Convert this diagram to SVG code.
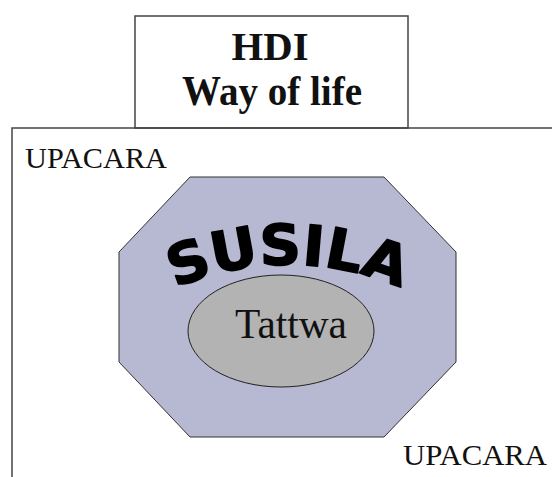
<svg xmlns="http://www.w3.org/2000/svg" width="552" height="477" viewBox="0 0 552 477">
<style>
.frame{fill:#fff;stroke:#444;stroke-width:1.5}
.serif{font-family:"Liberation Serif","Times New Roman",serif;fill:#111}
.bold{font-weight:bold}
.word{font-family:"DejaVu Sans","Liberation Sans",sans-serif;font-weight:bold;fill:#000;stroke:#000;stroke-width:1.6;stroke-linejoin:round}
</style>
<defs>
<path id="arc" d="M 150 301 A 280 280 0 0 1 426 301"/>
</defs>
<rect width="552" height="477" fill="#fff"/>
<g id="hdi">
<rect class="frame" x="135" y="16" width="273" height="112"/>
<text class="serif bold" x="270" y="60" font-size="40" text-anchor="middle" textLength="77" lengthAdjust="spacingAndGlyphs">HDI</text>
<text class="serif bold" x="272" y="105" font-size="43" text-anchor="middle" textLength="180" lengthAdjust="spacingAndGlyphs">Way of life</text>
</g>
<g id="upacara">
<path d="M12 477 V128 H552" fill="none" stroke="#444" stroke-width="1.5"/>
<text class="serif" x="25" y="168" font-size="30" textLength="142" lengthAdjust="spacingAndGlyphs">UPACARA</text>
<text class="serif" x="403" y="465" font-size="30" textLength="144" lengthAdjust="spacingAndGlyphs">UPACARA</text>
</g>
<g id="susila">
<polygon points="190,177 384,177 456,252 456,362 384,437 190,437 119,362 119,252" fill="#b7b8d2" stroke="#333" stroke-width="1"/>
<text class="word" font-size="56"><textPath href="#arc" startOffset="50%" text-anchor="middle" textLength="232" lengthAdjust="spacingAndGlyphs">SUSILA</textPath></text>
</g>
<g id="tattwa">
<ellipse cx="281" cy="331" rx="93" ry="56" fill="#b3b3b3" stroke="#222" stroke-width="1"/>
<text class="serif" x="291" y="338" font-size="42" text-anchor="middle" textLength="112" lengthAdjust="spacingAndGlyphs">Tattwa</text>
</g>
</svg>
